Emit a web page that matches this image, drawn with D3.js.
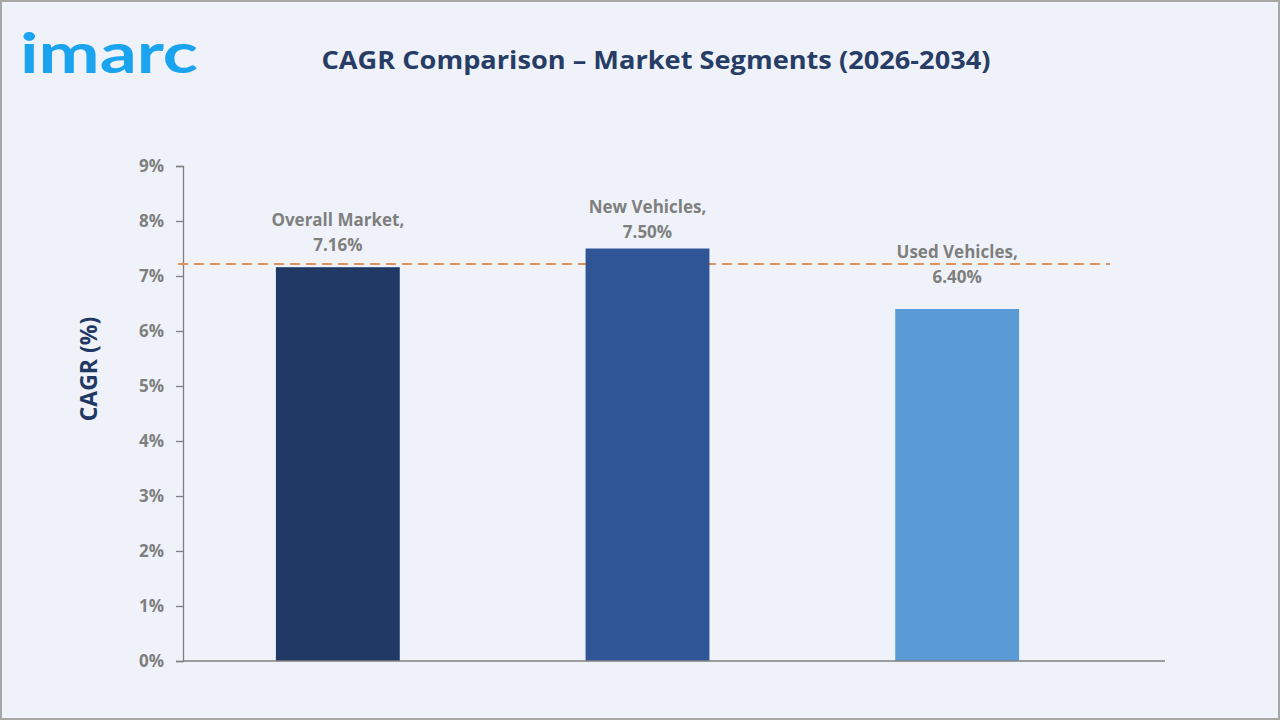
<!DOCTYPE html>
<html>
<head>
<meta charset="utf-8">
<script src="https://cdn.jsdelivr.net/npm/d3@7"></script>
<style>
  html, body { margin: 0; padding: 0; background: #eff3f9; }
  svg { display: block; }
</style>
</head>
<body>
<svg id="chart" width="1280" height="720"></svg>
<script>
// ---- data ----
const categories = ["Overall Market", "New Vehicles", "Used Vehicles"];
const cagrValues = [7.16, 7.50, 6.40];
const valueLabels = ["7.16%", "7.50%", "6.40%"];
const referenceValue = 7.22;
const yTicks = [0, 1, 2, 3, 4, 5, 6, 7, 8, 9];
const titleText = "CAGR Comparison – Market Segments (2026-2034)";
const yAxisTitle = "CAGR (%)";

// ---- layout / style ----
const W = 1280, H = 720;
const plot = { left: 183, right: 1165, bandRight: 1112, top: 166, bottom: 661 };
const barColors = ["#1f3864", "#2f5597", "#5b9bd5"];
const labelGap = [16, 11, 26]; // distance from bar top to last label baseline
const gray = "#7f7f7f";
const font = "'Open Sans', 'Liberation Sans', sans-serif";

const svg = d3.select("#chart");

svg.append("rect").attr("x", 1).attr("y", 1).attr("width", W - 2).attr("height", H - 2)
  .attr("fill", "#eff3f9").attr("stroke", "#a6a6a6").attr("stroke-width", 2);

// logo
svg.append("text").attr("x", 20).attr("y", 73)
  .attr("font-family", "Lato, 'Open Sans', sans-serif").attr("font-weight", 700)
  .attr("font-size", 56).attr("fill", "#1aa3ef")
  .attr("textLength", 178).attr("lengthAdjust", "spacingAndGlyphs")
  .text("imarc");

// title
svg.append("text").attr("x", 656).attr("y", 69).attr("text-anchor", "middle")
  .attr("font-family", font).attr("font-weight", 700).attr("font-size", 25)
  .attr("fill", "#283d66")
  .attr("textLength", 669).attr("lengthAdjust", "spacingAndGlyphs")
  .text(titleText);

const x = d3.scaleBand().domain(categories).range([plot.left, plot.bandRight]).paddingInner(0.6).paddingOuter(0.3);
const y = d3.scaleLinear().domain([0, 9]).range([plot.bottom, plot.top]);

// y axis
const yAxis = svg.append("g").attr("transform", `translate(${plot.left},0)`)
  .call(d3.axisLeft(y).tickValues(yTicks).tickFormat(d => d + "%").tickSize(7).tickPadding(12));
yAxis.select(".domain").attr("stroke", "#7f7f7f").attr("stroke-width", 1.3);
yAxis.selectAll(".tick line").attr("stroke", "#7f7f7f").attr("stroke-width", 1.3);
yAxis.selectAll(".tick text").attr("fill", gray).attr("font-family", font)
  .attr("font-weight", 700).attr("font-size", 17).attr("dy", "0.35em");

// y title
svg.append("text").attr("transform", `translate(97, 369) rotate(-90)`)
  .attr("text-anchor", "middle").attr("font-family", font).attr("font-weight", 700)
  .attr("font-size", 23).attr("fill", "#1f3864").text(yAxisTitle);

// reference dashed line
svg.append("line").attr("x1", plot.left - 5).attr("x2", plot.bandRight - 2)
  .attr("y1", y(referenceValue)).attr("y2", y(referenceValue))
  .attr("stroke", "#e0915a").attr("stroke-width", 2).attr("stroke-dasharray", "10,6");

// bars
svg.append("g").selectAll("rect").data(categories).join("rect")
  .attr("x", d => x(d)).attr("width", x.bandwidth())
  .attr("y", (d, i) => y(cagrValues[i]))
  .attr("height", (d, i) => y(0) - y(cagrValues[i]))
  .attr("fill", (d, i) => barColors[i]);

// x axis line
svg.append("line").attr("x1", plot.left).attr("x2", plot.right)
  .attr("y1", y(0)).attr("y2", y(0)).attr("stroke", "#7f7f7f").attr("stroke-width", 1.5);

// labels
const lbl = svg.append("g").selectAll("text").data(categories).join("text")
  .attr("text-anchor", "middle").attr("font-family", font).attr("font-weight", 700)
  .attr("font-size", 17).attr("fill", gray);
lbl.append("tspan").attr("x", d => x(d) + x.bandwidth() / 2)
  .attr("y", (d, i) => y(cagrValues[i]) - labelGap[i] - 25).text(d => d + ",");
lbl.append("tspan").attr("x", d => x(d) + x.bandwidth() / 2)
  .attr("y", (d, i) => y(cagrValues[i]) - labelGap[i]).text((d, i) => valueLabels[i]);
</script>
</body>
</html>
